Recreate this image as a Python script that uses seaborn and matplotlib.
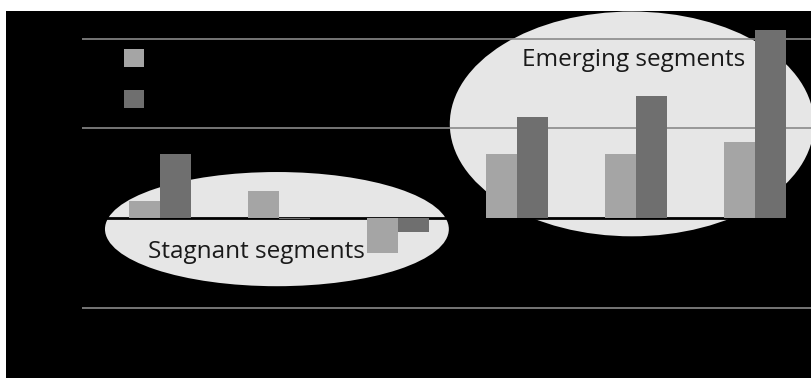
import matplotlib
matplotlib.use("Agg")
import matplotlib.pyplot as plt
from matplotlib.patches import Ellipse, Rectangle, Patch
import seaborn as sns
import pandas as pd

# Growth by market segment, two series per segment
segments = ["Segment 1", "Segment 2", "Segment 3", "Segment 4", "Segment 5", "Segment 6"]
series_names = ["Series 1", "Series 2"]
series_1 = [1.9, 3.0, -3.9, 7.1, 7.1, 8.5]
series_2 = [7.1, -0.1, -1.5, 11.3, 13.6, 20.9]
gridline_values = [-10, 0, 10, 20]
group_labels = ["Stagnant segments", "Emerging segments"]

light_grey = "#a5a5a5"
dark_grey = "#6f6f6f"
bubble = "#e6e6e6"

df = pd.DataFrame({
    "segment": segments * 2,
    "series": [series_names[0]] * len(segments) + [series_names[1]] * len(segments),
    "value": series_1 + series_2,
})

W, H = 812, 378
fig = plt.figure(figsize=(W / 100, H / 100), dpi=100, facecolor="white")
# black slide background, leaving a thin white margin top and left
fig.patches.append(Rectangle((6 / W, 0), 1 - 6 / W, 1 - 11 / H,
                             transform=fig.transFigure, facecolor="black",
                             edgecolor="none", zorder=-5))

ax = fig.add_axes([82 / W, 0, 1 - 82 / W, 1 - 11 / H])
ax.set_facecolor("none")
ax.set_zorder(1)

sns.barplot(data=df, x="segment", y="value", hue="series",
            palette=[light_grey, dark_grey], width=0.52, saturation=1,
            edgecolor="none", linewidth=0, legend=False, ax=ax, zorder=3)

ax.set_xlim(-0.655, 5.48)
ax.set_ylim(-17.76, 23.06)

# highlight bubbles behind the bars
ax.add_patch(Ellipse((0.983, -1.2), 2.89, 12.7, facecolor=bubble,
                     edgecolor="none", zorder=1))
ax.add_patch(Ellipse((3.966, 10.5), 3.06, 25.0, facecolor=bubble,
                     edgecolor="none", zorder=1))

for v in gridline_values:
    if v == 0:
        ax.axhline(v, color="black", lw=2.0, zorder=2)
    else:
        ax.axhline(v, color="#8a8a8a", lw=1.2, zorder=2)

for s in ax.spines.values():
    s.set_visible(False)
ax.set_xticks([])
ax.set_yticks([])
ax.set_xlabel("")
ax.set_ylabel("")

label_font = ["Open Sans", "DejaVu Sans"]
fig.text(148 / W, 1 - 258.5 / H, group_labels[0], fontsize=17.5,
         family=label_font, color="#1a1a1a", va="baseline", ha="left", zorder=5)
fig.text(522 / W, 1 - 66 / H, group_labels[1], fontsize=17.5,
         family=label_font, color="#1a1a1a", va="baseline", ha="left", zorder=5)

handles = [Patch(facecolor=light_grey, edgecolor="none"),
           Patch(facecolor=dark_grey, edgecolor="none")]
leg = fig.legend(handles, series_names, loc="upper left",
                 bbox_to_anchor=(106 / W, 1 - 31 / H), frameon=False,
                 fontsize=14.4, handlelength=1.0, handleheight=1.0,
                 labelspacing=1.05, labelcolor="black", borderpad=0.4)
leg.set_zorder(6)

fig.savefig("out.png", dpi=100, facecolor=fig.get_facecolor())
